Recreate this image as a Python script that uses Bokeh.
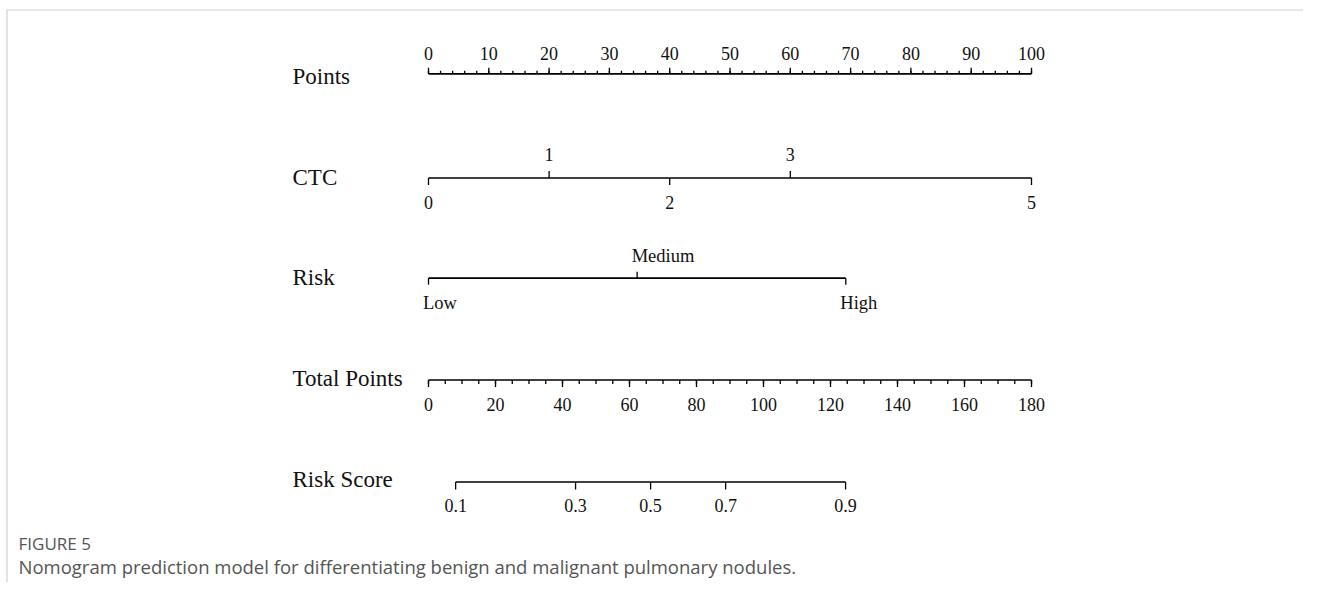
from bokeh.plotting import figure
from bokeh.models import Range1d
from bokeh.core.properties import value
from bokeh.embed import file_html
from bokeh.resources import INLINE

# ---------------- data ----------------
row_names = ["Points", "CTC", "Risk", "Total Points", "Risk Score"]

points_major = [0, 10, 20, 30, 40, 50, 60, 70, 80, 90, 100]
points_minor = list(range(0, 101, 2))

ctc_labels = ["0", "1", "2", "3", "5"]
ctc_points = [0, 20, 40, 60, 100]
ctc_side = ["below", "above", "below", "above", "below"]

risk_labels = ["Low", "Medium", "High"]
risk_points = [0, 34.6, 69.2]
risk_side = ["below", "above", "below"]

total_max = 180
total_major = [0, 20, 40, 60, 80, 100, 120, 140, 160, 180]
total_minor = list(range(0, 181, 5))

score_labels = ["0.1", "0.3", "0.5", "0.7", "0.9"]
score_total = [8.1, 43.9, 66.3, 88.7, 124.5]

caption_head = "FIGURE 5"
caption_text = "Nomogram prediction model for differentiating benign and malignant pulmonary nodules."

# ---------------- layout ----------------
W, H = 1303, 582
PX0 = 428.0          # screen x of points = 0
SCALE = 6.03         # pixels per point
x0 = -PX0 / SCALE
x1 = x0 + W / SCALE

def sx(px):
    return x0 + px / SCALE

row_y = [73.3, 177.5, 277.7, 379.5, 481.5]
label_y = [76, 177, 277, 378, 479]

SERIF = value("Liberation Serif")
LW = 1.7

p = figure(width=W, height=H, output_backend="svg", toolbar_location=None,
           x_range=Range1d(x0, x1), y_range=Range1d(H, 0),
           x_axis_location=None, y_axis_location=None, min_border=0,
           outline_line_color=None, background_fill_color="white",
           border_fill_color="white")
p.grid.visible = False

# frame lines (top and left) of the figure container
p.segment(x0=[sx(6), sx(6.5)], y0=[9.5, 9.5], x1=[x1, sx(6.5)], y1=[9.5, H],
          line_color="#d0d0d0", line_width=1.2)

# row names
p.text(x=[sx(292)] * 5, y=label_y, text=row_names, text_font=SERIF,
       text_font_size="23px", text_color="#111111", text_baseline="middle",
       text_align="left")

def axis_line(xs, y):
    p.segment(x0=[min(xs)], y0=[y], x1=[max(xs)], y1=[y],
              line_color="black", line_width=LW)

def ticks(xs, y, length):
    p.segment(x0=xs, y0=[y] * len(xs), x1=xs, y1=[y + length] * len(xs),
              line_color="black", line_width=1.3)

# Points row
y = row_y[0]
axis_line(points_major, y)
ticks(points_minor, y, -3)
ticks(points_major, y, -6)
p.text(x=points_major, y=[y - 20] * len(points_major),
       text=[str(v) for v in points_major], text_font=SERIF,
       text_font_size="18px", text_align="center", text_baseline="middle",
       text_color="#111111")

# CTC row
y = row_y[1]
axis_line(ctc_points, y)
for lab, pt, side in zip(ctc_labels, ctc_points, ctc_side):
    d = -1 if side == "above" else 1
    ticks([pt], y, 7 * d)
    p.text(x=[pt], y=[y + (-23.5 if side == "above" else 24.5)], text=[lab],
           text_font=SERIF, text_font_size="18px", text_align="center",
           text_baseline="middle", text_color="#111111")

# Risk row
y = row_y[2]
axis_line(risk_points, y)
for lab, pt, side in zip(risk_labels, risk_points, risk_side):
    d = -1 if side == "above" else 1
    ticks([pt], y, 6.5 * d)
    p.text(x=[pt], y=[y + (-22.7 if side == "above" else 25)], text=[lab],
           text_font=SERIF, text_font_size="18.5px", text_align="left",
           x_offset=-5.5, text_baseline="middle", text_color="#111111")

# Total points row
y = row_y[3]
tx_major = [v * 100 / total_max for v in total_major]
tx_minor = [v * 100 / total_max for v in total_minor]
axis_line(tx_major, y)
ticks(tx_minor, y, 4)
ticks(tx_major, y, 7)
p.text(x=tx_major, y=[y + 24.5] * len(tx_major),
       text=[str(v) for v in total_major], text_font=SERIF,
       text_font_size="18px", text_align="center", text_baseline="middle",
       text_color="#111111")

# Risk score row
y = row_y[4]
sx_pts = [v * 100 / total_max for v in score_total]
axis_line(sx_pts, y)
ticks(sx_pts, y, 7.5)
p.text(x=sx_pts, y=[y + 23.5] * len(sx_pts), text=score_labels,
       text_font=SERIF, text_font_size="18px", text_align="center",
       text_baseline="middle", text_color="#111111")

# caption
p.text(x=[sx(18)], y=[543], text=[caption_head], text_font=value("Open Sans"),
       text_font_size="17px", text_color="#555555",
       text_baseline="middle", text_align="left")
p.text(x=[sx(18)], y=[566], text=[caption_text], text_font=value("Open Sans"),
       text_font_size="18.5px", text_color="#555555",
       text_baseline="middle", text_align="left")

open("out.html", "w").write(file_html(p, INLINE))
